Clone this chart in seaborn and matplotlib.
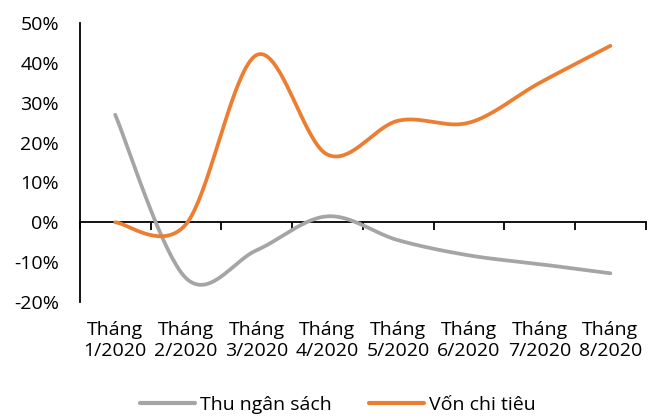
import numpy as np
import pandas as pd
import matplotlib
matplotlib.use("Agg")
import matplotlib.pyplot as plt
import seaborn as sns

# Monthly growth rates (%)
months = ["Tháng\n1/2020", "Tháng\n2/2020", "Tháng\n3/2020", "Tháng\n4/2020",
          "Tháng\n5/2020", "Tháng\n6/2020", "Tháng\n7/2020", "Tháng\n8/2020"]
thu_ngan_sach = [27.0, -14.0, -7.0, 1.5, -4.5, -8.3, -10.5, -12.8]
von_chi_tieu = [0.0, -0.5, 42.0, 17.0, 25.5, 25.0, 35.0, 44.3]
series_names = ["Thu ngân sách", "Vốn chi tiêu"]
series_colors = ["#A5A5A5", "#ED7D31"]
y_ticks = [-20, -10, 0, 10, 20, 30, 40, 50]


def smooth_curve(values, samples=40):
    """Catmull-Rom style Bezier smoothing, as used by spreadsheet 'smoothed lines'."""
    y = np.asarray(values, dtype=float)
    x = np.arange(len(y), dtype=float)
    n = len(y)
    xs, ys = [], []
    for i in range(n - 1):
        i0, i3 = max(i - 1, 0), min(i + 2, n - 1)
        p0 = np.array([x[i], y[i]])
        p3 = np.array([x[i + 1], y[i + 1]])
        c1 = p0 + (np.array([x[i + 1], y[i + 1]]) - np.array([x[i0], y[i0]])) / 6
        c2 = p3 - (np.array([x[i3], y[i3]]) - np.array([x[i], y[i]])) / 6
        t = np.linspace(0, 1, samples)[:, None]
        pts = ((1 - t) ** 3) * p0 + 3 * ((1 - t) ** 2) * t * c1 + 3 * (1 - t) * t ** 2 * c2 + t ** 3 * p3
        if i > 0:
            pts = pts[1:]
        xs.append(pts[:, 0])
        ys.append(pts[:, 1])
    return np.concatenate(xs), np.concatenate(ys)


sns.set_theme(style="white")
plt.rcParams["font.family"] = ["Open Sans", "DejaVu Sans"]
plt.rcParams["text.color"] = "black"
plt.rcParams["xtick.color"] = "black"
plt.rcParams["ytick.color"] = "black"

fig = plt.figure(figsize=(6.49, 4.20), dpi=100)
ax = fig.add_axes([0.123, 0.281, 0.872, 0.664])

frames = []
for name, vals in zip(series_names, [thu_ngan_sach, von_chi_tieu]):
    sx, sy = smooth_curve(vals)
    frames.append(pd.DataFrame({"x": sx, "y": sy, "series": name}))
df = pd.concat(frames, ignore_index=True)

sns.lineplot(data=df, x="x", y="y", hue="series", palette=series_colors,
             hue_order=series_names, sort=False, linewidth=2.7, ax=ax,
             solid_capstyle="round", legend=False)

n = len(months)
ax.set_xlim(-0.5, n - 0.5)
ax.set_ylim(min(y_ticks), max(y_ticks))
ax.set_yticks(y_ticks)
ax.set_yticklabels([f"{v}%" for v in y_ticks])
ax.set_xticks(range(n))
ax.set_xticklabels(months, linespacing=1.2)
ax.tick_params(axis="x", length=0, pad=14, labelsize=14)
ax.tick_params(axis="y", length=0, pad=15, labelsize=14)
ax.set_xlabel("")
ax.set_ylabel("")

for side in ["top", "right", "bottom"]:
    ax.spines[side].set_visible(False)
ax.spines["left"].set_color("black")
ax.spines["left"].set_linewidth(1.3)

# Category axis line at zero with boundary ticks
zero_frac = (0 - min(y_ticks)) / (max(y_ticks) - min(y_ticks))
sec = ax.secondary_xaxis(zero_frac)
sec.set_xticks(np.arange(n + 1) - 0.5)
sec.set_xticklabels([])
sec.tick_params(axis="x", length=6, width=1.3, direction="out", color="black")
sec.spines["bottom"].set_color("black")
sec.spines["bottom"].set_linewidth(1.3)

handles = [plt.Line2D([], [], color=c, linewidth=3) for c in series_colors]
fig.legend(handles, series_names, loc="center", bbox_to_anchor=(0.52, 0.036),
           ncol=2, frameon=False, fontsize=14, handlelength=2.85,
           handletextpad=0.25, columnspacing=1.9)

fig.savefig("out.png", dpi=100, facecolor="white")
